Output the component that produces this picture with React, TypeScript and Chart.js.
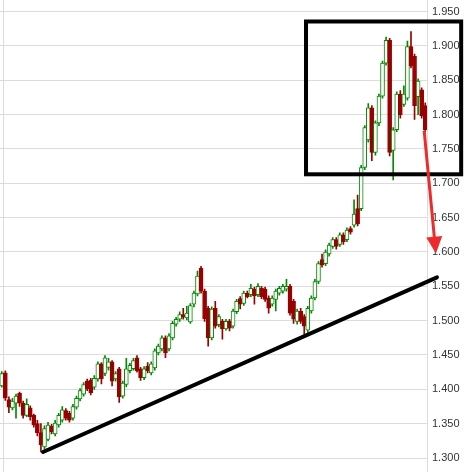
import React, { useEffect, useRef } from 'react';
import { Chart, registerables } from 'chart.js';

Chart.register(...registerables);

// OHLC values (one entry per candle)
const opens = [
  1.405, 1.424, 1.385, 1.373, 1.380, 1.394, 1.380, 1.362, 1.373, 1.362,
  1.350, 1.337, 1.316, 1.327, 1.346, 1.335, 1.348, 1.355, 1.369, 1.365,
  1.358, 1.374, 1.386, 1.393, 1.412, 1.413, 1.403, 1.415, 1.437, 1.423,
  1.432, 1.440, 1.415, 1.430, 1.390, 1.407, 1.427, 1.430, 1.446, 1.430,
  1.417, 1.434, 1.424, 1.431, 1.453, 1.459, 1.475, 1.459, 1.475, 1.495,
  1.502, 1.509, 1.504, 1.498, 1.524, 1.539, 1.576, 1.543, 1.518, 1.475,
  1.518, 1.494, 1.499, 1.488, 1.499, 1.492, 1.513, 1.532, 1.525, 1.540,
  1.538, 1.546, 1.538, 1.547, 1.546, 1.533, 1.524, 1.531, 1.540, 1.543,
  1.546, 1.550, 1.528, 1.499, 1.514, 1.506, 1.486, 1.514, 1.533, 1.557,
  1.589, 1.583, 1.597, 1.608, 1.618, 1.611, 1.625, 1.618, 1.634, 1.639,
  1.663, 1.663, 1.723, 1.763, 1.810, 1.745, 1.788, 1.827, 1.875, 1.908,
  1.748, 1.778, 1.830, 1.815, 1.824, 1.899, 1.885, 1.826, 1.836, 1.813,
];
const highs = [
  1.426, 1.427, 1.389, 1.387, 1.393, 1.396, 1.383, 1.386, 1.376, 1.364,
  1.355, 1.350, 1.347, 1.352, 1.349, 1.355, 1.365, 1.375, 1.372, 1.368,
  1.378, 1.390, 1.401, 1.410, 1.415, 1.416, 1.420, 1.440, 1.439, 1.449,
  1.445, 1.442, 1.426, 1.432, 1.412, 1.445, 1.438, 1.445, 1.449, 1.432,
  1.433, 1.439, 1.440, 1.459, 1.466, 1.478, 1.478, 1.481, 1.499, 1.505,
  1.513, 1.518, 1.521, 1.525, 1.543, 1.572, 1.579, 1.546, 1.521, 1.520,
  1.528, 1.509, 1.502, 1.502, 1.502, 1.517, 1.531, 1.535, 1.543, 1.543,
  1.553, 1.549, 1.554, 1.550, 1.549, 1.536, 1.536, 1.546, 1.550, 1.553,
  1.560, 1.553, 1.531, 1.517, 1.518, 1.509, 1.521, 1.536, 1.560, 1.586,
  1.597, 1.603, 1.613, 1.621, 1.621, 1.628, 1.628, 1.635, 1.637, 1.676,
  1.683, 1.726, 1.784, 1.816, 1.813, 1.791, 1.830, 1.878, 1.913, 1.911,
  1.781, 1.833, 1.835, 1.842, 1.907, 1.921, 1.888, 1.852, 1.839, 1.817,
];
const lows = [
  1.403, 1.384, 1.366, 1.370, 1.358, 1.375, 1.358, 1.360, 1.355, 1.345,
  1.332, 1.309, 1.313, 1.325, 1.335, 1.332, 1.345, 1.352, 1.355, 1.352,
  1.355, 1.371, 1.383, 1.390, 1.398, 1.392, 1.400, 1.412, 1.408, 1.420,
  1.428, 1.405, 1.412, 1.381, 1.387, 1.404, 1.424, 1.428, 1.425, 1.413,
  1.414, 1.424, 1.421, 1.428, 1.450, 1.456, 1.446, 1.456, 1.472, 1.492,
  1.499, 1.502, 1.501, 1.496, 1.520, 1.536, 1.540, 1.499, 1.463, 1.472,
  1.489, 1.491, 1.473, 1.486, 1.485, 1.489, 1.510, 1.517, 1.522, 1.533,
  1.535, 1.524, 1.535, 1.532, 1.528, 1.511, 1.521, 1.514, 1.537, 1.540,
  1.543, 1.508, 1.496, 1.495, 1.496, 1.480, 1.483, 1.511, 1.530, 1.554,
  1.578, 1.580, 1.594, 1.605, 1.604, 1.608, 1.611, 1.615, 1.626, 1.636,
  1.638, 1.660, 1.720, 1.760, 1.733, 1.741, 1.784, 1.824, 1.872, 1.740,
  1.705, 1.775, 1.795, 1.812, 1.821, 1.868, 1.793, 1.800, 1.795, 1.775,
];
const closes = [
  1.423, 1.387, 1.374, 1.383, 1.390, 1.380, 1.362, 1.378, 1.360, 1.348,
  1.337, 1.319, 1.343, 1.348, 1.338, 1.351, 1.362, 1.370, 1.358, 1.355,
  1.375, 1.387, 1.398, 1.407, 1.401, 1.395, 1.416, 1.437, 1.415, 1.446,
  1.440, 1.412, 1.423, 1.389, 1.409, 1.430, 1.435, 1.442, 1.427, 1.417,
  1.430, 1.427, 1.437, 1.456, 1.463, 1.475, 1.453, 1.478, 1.496, 1.502,
  1.509, 1.505, 1.511, 1.522, 1.540, 1.565, 1.543, 1.503, 1.475, 1.517,
  1.492, 1.506, 1.488, 1.499, 1.489, 1.514, 1.528, 1.524, 1.540, 1.535,
  1.547, 1.536, 1.550, 1.535, 1.531, 1.518, 1.533, 1.543, 1.547, 1.550,
  1.550, 1.511, 1.502, 1.514, 1.499, 1.492, 1.518, 1.533, 1.557, 1.583,
  1.581, 1.600, 1.610, 1.618, 1.608, 1.625, 1.615, 1.632, 1.629, 1.655,
  1.641, 1.723, 1.781, 1.810, 1.745, 1.788, 1.827, 1.875, 1.908, 1.745,
  1.778, 1.830, 1.800, 1.830, 1.899, 1.871, 1.813, 1.849, 1.798, 1.778,
];

const labels = opens.map((_, i) => String(i + 1));

// y axis
const yMin = 1.3;
const yMax = 1.95;
const yTicks = [1.3, 1.35, 1.4, 1.45, 1.5, 1.55, 1.6, 1.65, 1.7, 1.75, 1.8, 1.85, 1.9, 1.95];

// drawn annotations, in data units (x = candle index, y = price)
const boxX = [85.5, 129.1];
const boxY = [1.9356, 1.7131];
const trendX = [11.6, 122.3];
const trendY = [1.3087, 1.563];
const arrowX = [118.7, 122.0];
const arrowY = [1.7767, 1.5976];

const GREEN = '#008a00';
const RED = '#990000';
const ARROW_RED = '#ee2a2a';
const GRID = '#dcdcdc';

const overlayPlugin = {
  id: 'overlay',
  beforeDatasetsDraw(chart: any) {
    const { ctx, chartArea } = chart;
    ctx.save();
    ctx.strokeStyle = GRID;
    ctx.lineWidth = 1;
    ctx.beginPath();
    const lx = Math.round(chartArea.left + 3) + 0.5;
    const rx = Math.round(chartArea.right) + 0.5;
    ctx.moveTo(lx, 0);
    ctx.lineTo(lx, chart.height);
    ctx.moveTo(rx, 0);
    ctx.lineTo(rx, chart.height);
    ctx.stroke();
    ctx.restore();
  },
  afterDatasetsDraw(chart: any) {
    const { ctx } = chart;
    const xs = chart.scales.x;
    const ys = chart.scales.y;
    ctx.save();
    // rectangle
    const bx0 = xs.getPixelForValue(boxX[0]);
    const bx1 = xs.getPixelForValue(boxX[1]);
    const by0 = ys.getPixelForValue(boxY[0]);
    const by1 = ys.getPixelForValue(boxY[1]);
    ctx.strokeStyle = '#000';
    ctx.lineWidth = 4;
    ctx.lineJoin = 'miter';
    ctx.strokeRect(bx0, by0, bx1 - bx0, by1 - by0);
    // trend line
    ctx.beginPath();
    ctx.lineCap = 'round';
    ctx.moveTo(xs.getPixelForValue(trendX[0]), ys.getPixelForValue(trendY[0]));
    ctx.lineTo(xs.getPixelForValue(trendX[1]), ys.getPixelForValue(trendY[1]));
    ctx.stroke();
    // arrow
    const ax0 = xs.getPixelForValue(arrowX[0]);
    const ay0 = ys.getPixelForValue(arrowY[0]);
    const ax1 = xs.getPixelForValue(arrowX[1]);
    const ay1 = ys.getPixelForValue(arrowY[1]);
    const dx = ax1 - ax0;
    const dy = ay1 - ay0;
    const len = Math.sqrt(dx * dx + dy * dy);
    const ux = dx / len;
    const uy = dy / len;
    const head = 17;
    const half = 8;
    ctx.strokeStyle = ARROW_RED;
    ctx.fillStyle = ARROW_RED;
    ctx.lineWidth = 3;
    ctx.lineCap = 'butt';
    ctx.beginPath();
    ctx.moveTo(ax0, ay0);
    ctx.lineTo(ax1 - ux * (head - 2), ay1 - uy * (head - 2));
    ctx.stroke();
    const bxh = ax1 - ux * head;
    const byh = ay1 - uy * head;
    ctx.beginPath();
    ctx.moveTo(ax1, ay1);
    ctx.lineTo(bxh - uy * half, byh + ux * half);
    ctx.lineTo(bxh + uy * half, byh - ux * half);
    ctx.closePath();
    ctx.fill();
    ctx.restore();
  },
};

export default function App() {
  const canvasRef = useRef<HTMLCanvasElement | null>(null);

  useEffect(() => {
    const canvas = canvasRef.current;
    if (!canvas) return;
    const ups = opens.map((o, i) => closes[i] >= o);
    const chart = new Chart(canvas, {
      type: 'bar',
      data: {
        labels,
        datasets: [
          {
            label: 'body',
            data: opens.map((o, i) => [o, closes[i]]) as any,
            backgroundColor: ups.map((u) => (u ? '#ffffff' : RED)),
            borderColor: ups.map((u) => (u ? GREEN : RED)),
            borderWidth: 1,
            borderSkipped: false,
            barThickness: 4,
            grouped: false,
            order: 0,
          } as any,
          {
            label: 'wick',
            data: lows.map((l, i) => [l, highs[i]]) as any,
            backgroundColor: ups.map((u) => (u ? GREEN : RED)),
            borderWidth: 0,
            barThickness: 1,
            grouped: false,
            order: 1,
          } as any,
        ],
      },
      options: {
        responsive: false,
        animation: false,
        events: [],
        layout: { padding: { top: 8, bottom: 14, left: 0, right: 0 } },
        plugins: { legend: { display: false }, tooltip: { enabled: false } },
        scales: {
          x: { display: false, offset: true },
          y: {
            position: 'right',
            min: yMin,
            max: yMax,
            afterBuildTicks: (scale: any) => {
              scale.ticks = yTicks.map((v) => ({ value: v }));
            },
            afterFit: (scale: any) => {
              scale.width = 37;
            },
            ticks: {
              callback: (v: any) => Number(v).toFixed(3),
              font: { family: '"Liberation Sans", Arial, sans-serif', size: 11 },
              color: '#333333',
              padding: 5,
            },
            grid: { color: GRID, drawTicks: false },
            border: { display: false },
          },
        },
      } as any,
      plugins: [overlayPlugin],
    });
    return () => chart.destroy();
  }, []);

  return (
    <div style={{ position: 'fixed', left: 0, top: 0, width: 464, height: 472, background: '#fff' }}>
      <canvas ref={canvasRef} width={464} height={472} />
    </div>
  );
}
